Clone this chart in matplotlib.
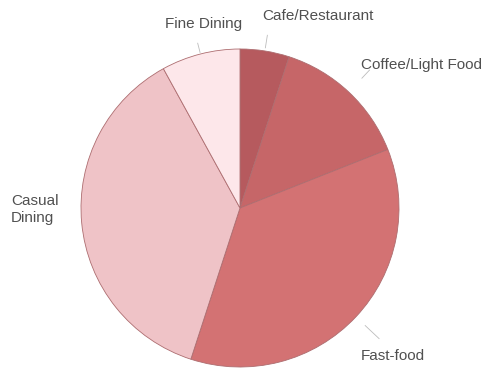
import numpy as np
import matplotlib
matplotlib.use("Agg")
import matplotlib.pyplot as plt

# Share of outlets by dining segment (percent), clockwise from 12 o'clock
segments = ["Cafe/Restaurant", "Coffee/Light Food", "Fast-food", "Casual\nDining", "Fine Dining"]
shares = [5, 14, 36, 37, 8]
colors = ["#b65a5e", "#c66668", "#d37273", "#efc3c7", "#fde7ea"]

# label anchor (data coords), horizontal alignment, leader radii
label_pos = [(0.49, 1.21), (1.14, 0.90), (0.96, -0.93), (-1.44, -0.01), (-0.23, 1.16)]
label_ha = ["center", "center", "center", "left", "center"]
leader = [(1.02, 1.10), (1.12, 1.19), (1.08, 1.20), None, (1.01, 1.07)]

fig = plt.figure(figsize=(4.86, 3.75), dpi=100)
W, H = 486, 375
cx, cy, r = 240, 208, 159
ax = fig.add_axes([(cx - r) / W, (H - cy - r) / H, 2 * r / W, 2 * r / H])

wedges, _ = ax.pie(shares, colors=colors, startangle=90, counterclock=False,
                   radius=1.0,
                   wedgeprops=dict(edgecolor="#ad6d70", linewidth=0.6))
ax.set_xlim(-1, 1)
ax.set_ylim(-1, 1)
ax.set_aspect("equal")
ax.axis("off")

for w, name, pos, ha, ld in zip(wedges, segments, label_pos, label_ha, leader):
    mid = np.deg2rad((w.theta1 + w.theta2) / 2)
    if ld is not None:
        r0, r1 = ld
        ax.plot([r0 * np.cos(mid), r1 * np.cos(mid)],
                [r0 * np.sin(mid), r1 * np.sin(mid)],
                color="#bcbcbc", lw=0.6, clip_on=False)
    ax.text(pos[0], pos[1], name, ha=ha, va="center", fontsize=11,
            family="Liberation Sans", color="#505050", linespacing=1.3,
            clip_on=False)

fig.savefig("out.png", dpi=100, facecolor="white")
